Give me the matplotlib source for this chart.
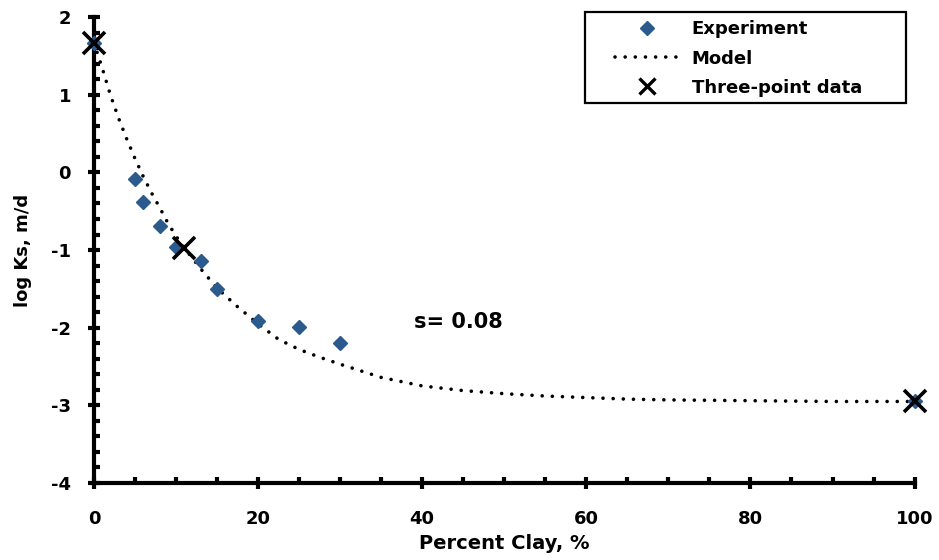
import numpy as np
import matplotlib.pyplot as plt
from matplotlib.ticker import MultipleLocator
from matplotlib.patches import Rectangle

plt.rcParams['font.family'] = ['DejaVu Sans']
plt.rcParams['font.weight'] = 'bold'
plt.rcParams['axes.unicode_minus'] = False

# Experiment points (percent clay, log Ks)
exp_clay = [0, 5, 6, 8, 10, 13, 15, 20, 25, 30, 100]
exp_logk = [1.67, -0.08, -0.38, -0.69, -0.96, -1.14, -1.50, -1.91, -1.99, -2.20, -2.95]

# Model curve
model_clay = [0, 1, 2, 3, 4, 5, 6, 7, 8, 9, 10, 11, 13, 15, 17.5, 20, 22.5, 25,
              27.5, 30, 35, 40, 45, 50, 55, 60, 65, 70, 80, 90, 100]
model_logk = [1.67, 1.35, 1.00, 0.70, 0.43, 0.18, -0.05, -0.26, -0.45, -0.65, -0.82,
              -0.97, -1.24, -1.49, -1.73, -1.95, -2.15, -2.28, -2.38, -2.47, -2.64,
              -2.75, -2.81, -2.85, -2.88, -2.90, -2.92, -2.93, -2.94, -2.95, -2.95]

# Three-point data
tp_clay = [0, 11, 100]
tp_logk = [1.67, -0.97, -2.95]

fig = plt.figure(figsize=(9.39, 5.6), dpi=100)
ax = fig.add_axes([0.100, 0.1375, 0.874, 0.832])

ax.plot(exp_clay, exp_logk, linestyle='none', marker='D', markersize=7,
        color='#2B5B8C', label='Experiment', zorder=3, clip_on=False)
ax.plot(model_clay, model_logk, color='black', linewidth=2.6,
        linestyle=(0, (0.01, 2.8)), dash_capstyle='round', label='Model',
        zorder=2, clip_on=False)
ax.plot(tp_clay, tp_logk, linestyle='none', marker='x', markersize=16,
        markeredgewidth=2.6, color='black', label='Three-point data',
        zorder=4, clip_on=False)

ax.set_xlim(0, 100)
ax.set_ylim(-4, 2)
ax.xaxis.set_major_locator(MultipleLocator(20))
ax.xaxis.set_minor_locator(MultipleLocator(5))
ax.yaxis.set_major_locator(MultipleLocator(1))
ax.yaxis.set_minor_locator(MultipleLocator(0.2))

for s in ['top', 'right']:
    ax.spines[s].set_visible(False)
for s in ['left', 'bottom']:
    ax.spines[s].set_linewidth(3)
    ax.spines[s].set_color('black')

ax.tick_params(which='major', direction='inout', length=9, width=3, labelsize=13)
ax.tick_params(which='minor', direction='in', length=4, width=3)
ax.tick_params(axis='x', which='major', pad=15)
ax.tick_params(axis='y', which='major', pad=12)

ax.set_xlabel('Percent Clay, %', fontsize=14, fontweight='bold', labelpad=4)
ax.set_ylabel('log Ks, m/d', fontsize=13, fontweight='bold', labelpad=14)

ax.text(39, -1.93, 's= 0.08', fontsize=15, fontweight='bold', va='center')

leg = ax.legend(loc='upper left', bbox_to_anchor=(0.6346, 0.993), fontsize=13,
                frameon=False, handlelength=3.55, borderpad=0, borderaxespad=0,
                labelspacing=0.62, handletextpad=0.72)
for t in leg.get_texts():
    t.set_fontweight('bold')
leg.legend_handles[2].set_markersize(11)
leg.legend_handles[2].set_markeredgewidth(2.4)
leg.set_zorder(6)

frame = Rectangle((0.598, 0.8155), 0.392, 0.1952, transform=ax.transAxes,
                  fill=False, edgecolor='black', linewidth=1.6, clip_on=False,
                  zorder=5)
ax.add_patch(frame)

fig.savefig('out.png', dpi=100)
